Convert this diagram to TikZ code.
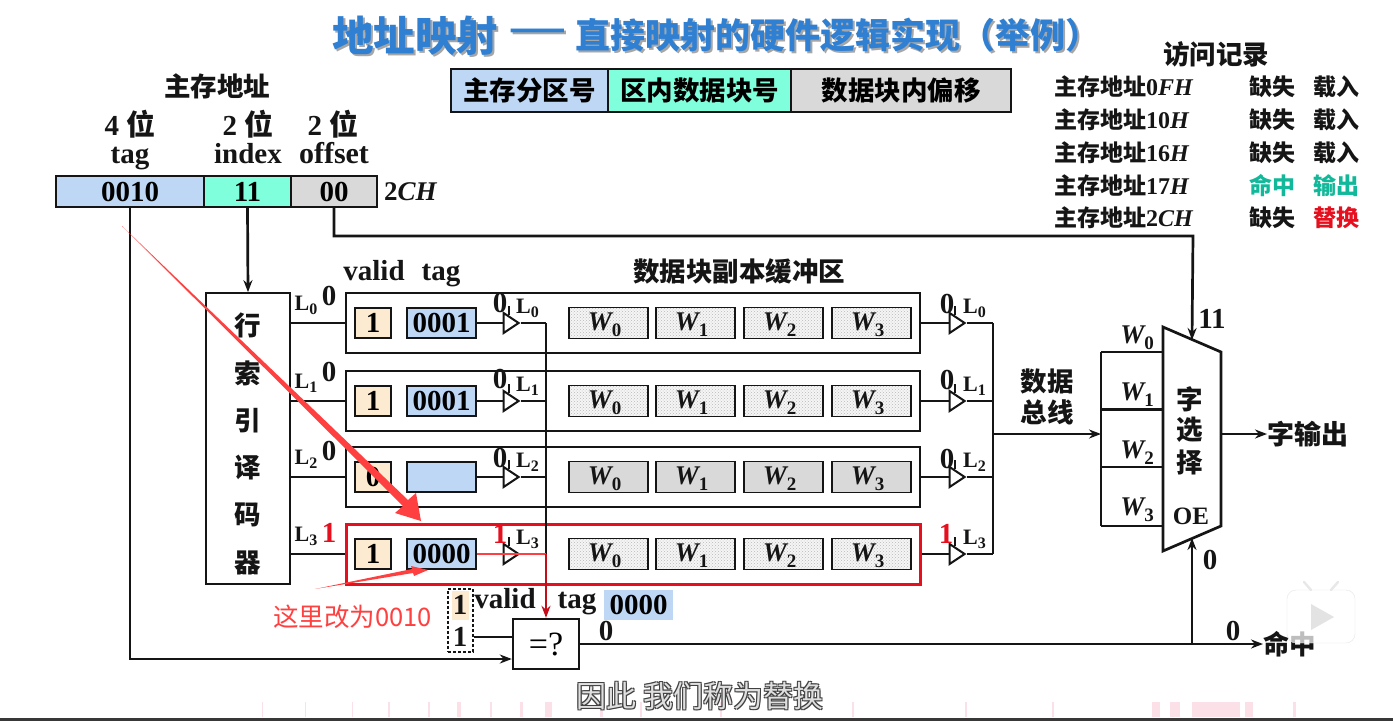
\documentclass[tikz,border=0pt]{standalone}
\usepackage{fontspec}
\setmainfont{Liberation Serif}
\newfontfamily\cjk{Noto Sans CJK SC}
\usepackage{xcolor}
\definecolor{ink}{HTML}{151515}
\definecolor{titleblue}{HTML}{2F80D3}
\definecolor{tagblue}{HTML}{BDD7F4}
\definecolor{idxaqua}{HTML}{7FFFDC}
\definecolor{offgray}{HTML}{D9D9D9}
\definecolor{validtan}{HTML}{FCEBD0}
\definecolor{hitgreen}{HTML}{12B89A}
\definecolor{missred}{HTML}{E60F1E}
\definecolor{markred}{HTML}{FF4040}
\definecolor{pinkbar}{HTML}{FBE0E8}
\usepackage{tikz}
\usetikzlibrary{shapes.geometric,arrows.meta,patterns}
\newcommand{\fs}[1]{\fontsize{#1}{#1}\selectfont}
\newcommand{\wsub}[1]{{\fs{27}\bfseries\itshape W\raisebox{-6pt}{\fs{19}\upshape #1}}}
\newcommand{\lsub}[1]{{\fs{22}\bfseries L\raisebox{-4pt}{\fs{16}#1}}}

\begin{document}
\begin{tikzpicture}[x=1pt,y=-1pt,
  wire/.style={line width=2.7pt,ink},
  thin wire/.style={line width=2pt,ink},
  arr/.style={-{Stealth[length=12pt,width=9pt]}},
  cell/.style={rectangle,draw=ink,line width=1.7pt,inner sep=0pt,align=center,font=\fs{29}\bfseries},
  lbl/.style={inner sep=0pt,text=ink,font=\fs{29}\bfseries},
  han/.style={inner sep=0pt,text=ink,font=\cjk\fs{26.5}\bfseries},
  rec/.style={inner sep=0pt,anchor=west,text=ink,font=\fs{24}\bfseries},
  buf/.style={isosceles triangle,isosceles triangle stretches,draw=ink,line width=2pt,fill=white,
    minimum width=20pt,minimum height=15pt,inner sep=0pt},
  wbox/.style={cell,minimum width=79pt,minimum height=31pt,preaction={fill=gray!8},pattern=crosshatch dots,pattern color=gray!55}]
  \useasboundingbox (0,0) rectangle (1393,721);
  \fill[white] (0,0) rectangle (1393,721);
  % title
  \foreach \dx/\c/\s in {2/gray!70/a,0/titleblue/b} {
    \node[han,anchor=west,text=\c,font=\cjk\fs{41.5}\bfseries] (T1\s) at (332+\dx,36+\dx) {地址映射};
    \node[han,anchor=west,text=\c,font=\cjk\fs{33}\bfseries] (T2\s) at (509+\dx,35+\dx) {——};
    \node[han,anchor=west,text=\c,font=\cjk\fs{35}\bfseries] (T3\s) at (575+\dx,35+\dx) {直接映射的硬件逻辑实现（举例）};
  }
  % legend
  \node[cell,fill=tagblue,minimum width=157pt,minimum height=43pt,font=\cjk\fs{26.5}\bfseries] (K1) at (529.5,90.5) {主存分区号};
  \node[cell,fill=idxaqua,minimum width=183pt,minimum height=43pt,font=\cjk\fs{26.5}\bfseries] (K2) at (699.5,90.5) {区内数据块号};
  \node[cell,fill=offgray,minimum width=220pt,minimum height=43pt,font=\cjk\fs{26.5}\bfseries] (K3) at (901,90.5) {数据块内偏移};
  % main memory address
  \node[han] (MA) at (217,86) {主存地址};
  \node[lbl] (Bt) at (130,124) {4 {\cjk 位}};
  \node[lbl] (Bi) at (248,124) {2 {\cjk 位}};
  \node[lbl] (Bo) at (333,124) {2 {\cjk 位}};
  \node[lbl,anchor=base] (Lt) at (130,163) {tag};
  \node[lbl,anchor=base] (Li) at (248,163) {index};
  \node[lbl,anchor=base,font=\fs{30}\bfseries] (Lo) at (334,163) {offset};
  \node[cell,fill=tagblue,minimum width=148pt,minimum height=31pt] (At) at (130,191.5) {0010};
  \node[cell,fill=idxaqua,minimum width=87pt,minimum height=31pt] (Ai) at (247.5,191.5) {11};
  \node[cell,fill=offgray,minimum width=86pt,minimum height=31pt] (Ao) at (334,191.5) {00};
  \node[lbl,anchor=west,font=\fs{27}\bfseries] (A2) at (384,191.5) {2\textit{CH}};
  % access record
  \node[han] (AR) at (1216,54) {访问记录};
  \foreach \r/\y/\a in {0/87/0\textit{FH},1/120/10\textit{H},2/153/16\textit{H}} {
    \node[rec] (R\r) at (1054,\y) {{\cjk\fs{23}主存地址}\a};
    \node[rec,font=\cjk\fs{23}\bfseries] (Ra\r) at (1249,\y) {缺失};
    \node[rec,font=\cjk\fs{23}\bfseries] (Rb\r) at (1313,\y) {载入};
  }
  \node[rec] (R3) at (1054,186) {{\cjk\fs{23}主存地址}17\textit{H}};
  \node[rec,text=hitgreen,font=\cjk\fs{23}\bfseries] (Ra3) at (1249,186) {命中};
  \node[rec,text=hitgreen,font=\cjk\fs{23}\bfseries] (Rb3) at (1313,186) {输出};
  \node[rec] (R4) at (1054,218) {{\cjk\fs{23}主存地址}2\textit{CH}};
  \node[rec,font=\cjk\fs{23}\bfseries] (Ra4) at (1249,218) {缺失};
  \node[rec,text=missred,font=\cjk\fs{23}\bfseries] (Rb4) at (1313,218) {替换};
  % decoder
  \node[cell,fill=white,minimum width=84pt,minimum height=291pt] (D) at (248,438.5) {};
  \foreach \t/\y in {行/325,索/373,引/421,译/468,码/515,器/563}
    \node[han] (D\t) at (248,\y) {\t};
  \node[lbl,anchor=base] (Hv) at (374,280) {valid};
  \node[lbl,anchor=base] (Ht) at (441,280) {tag};
  \node[han] (Hb) at (739,271) {数据块副本缓冲区};
  % cache rows
  \foreach \r/\y/\v/\t in {0/323/1/0001,1/401/1/0001,2/477/0/,3/554/1/0000} {
    \node[cell,minimum width=574pt,minimum height=60pt] (F\r) at (633,\y) {};
    \node[cell,fill=validtan,minimum width=36pt,minimum height=30pt] (V\r) at (373,\y) {\v};
    \node[cell,fill=tagblue,minimum width=69pt,minimum height=30pt] (G\r) at (441.5,\y) {\t};
    \node[wbox] (Wa\r) at (608.5,\y) {};
    \node[wbox] (Wb\r) at (695.5,\y) {};
    \node[wbox] (Wc\r) at (783.5,\y) {};
    \node[wbox] (Wd\r) at (871.5,\y) {};
    \node[buf] (P\r) at (509,\y) {};
    \node[buf] (Q\r) at (955,\y) {};
    \coordinate (S\r) at (546,\y);
    \coordinate (J\r) at (993,\y);
    \draw[thin wire] (D.east|-V\r) -- (F\r.west);
    \draw[wire] (G\r.east) -- (P\r.lower side);
    \draw[wire] (P\r.apex) -- (S\r);
    \draw[wire] (F\r.east) -- (Q\r.lower side);
    \draw[wire] (Q\r.apex) -- (J\r);
    \draw[thin wire] (P\r.north) -- ++(0,-9);
    \draw[thin wire] (Q\r.north) -- ++(0,-9);
    \node[lbl,anchor=west] (Lp\r) at (516,\y-15) {\lsub{\r}};
    \node[lbl,anchor=west] (Lq\r) at (963,\y-15) {\lsub{\r}};
    \node[lbl] (Ld\r) at (306,\y-18) {\lsub{\r}};
  }
  % row 2 plain grey words
  \foreach \n in {Wa,Wb,Wc,Wd} \node[cell,fill=offgray,minimum width=79pt,minimum height=31pt] (\n x) at (\n2) {};
  \foreach \r/\y in {0/325,1/403,2/479,3/556}
    \foreach \i/\x in {0/604.5,1/691.5,2/779.5,3/867.5}
      \node[lbl] (Wt\r\i) at (\x,\y) {\wsub{\i}};
  % line values
  \foreach \r/\y in {0/296,1/372,2/451} {
    \node[lbl] (Zd\r) at (329,\y) {0};
    \node[lbl] (Zp\r) at (500,\y+7) {0};
    \node[lbl] (Zq\r) at (947,\y+8) {0};
  }
  \node[lbl,text=missred] (Zd3) at (329,533) {1};
  \node[lbl,text=missred] (Zp3) at (500,534) {1};
  \node[lbl,text=missred] (Zq3) at (946,534) {1};
  % red row outline
  \node[rectangle,draw=missred,line width=3pt,minimum width=574pt,minimum height=60pt] (F3r) at (633,554) {};
  % data bus and word selector
  \draw[wire] (J0) -- (J3);
  \coordinate (Jm) at (993,434);
  \coordinate (Wn) at (1101,434);
  \draw[thin wire,arr] (Jm) -- (Wn);
  \node[han] (Bu1) at (1047,381) {数据};
  \node[han] (Bu2) at (1047,412) {总线};
  \coordinate (M1) at (1163,327);
  \coordinate (M2) at (1221,352);
  \coordinate (M3) at (1221,526);
  \coordinate (M4) at (1163,551);
  \coordinate (Mt) at (1192,340);
  \coordinate (Mb) at (1192,538);
  \coordinate (Mo) at (1221,434);
  \draw[wire,fill=white] (M1) -- (M2) -- (M3) -- (M4) -- cycle;
  \foreach \y in {352,409.5,467,526} \draw[wire] (1101,\y) -- (1163,\y);
  \draw[wire] (1101,352) -- (1101,526);
  \node[lbl] (W0) at (1137,338) {\wsub{0}};
  \node[lbl] (W1) at (1137,395) {\wsub{1}};
  \node[lbl] (W2) at (1137,453) {\wsub{2}};
  \node[lbl] (W3) at (1137,510) {\wsub{3}};
  \node[han] (Ma) at (1190,399) {字};
  \node[han] (Mc) at (1190,430) {选};
  \node[han] (Md) at (1190,462) {择};
  \node[lbl,font=\fs{25}\bfseries] (OE) at (1191,516) {OE};
  \node[lbl] (N11) at (1212,319) {11};
  \node[han,anchor=west,font=\cjk\fs{27}\bfseries] (Wo) at (1267,434) {字输出};
  \draw[thin wire,arr] (Mo) -- (Wo.west);
  % address wires
  \draw[wire,arr] (Ai.south) -- (D.north);
  \draw[wire,arr] (Ao.south) |- (1193,236) -- (Mt);
  % comparator
  \node[cell,line width=2.4pt,minimum width=66pt,minimum height=50pt,font=\fs{34}] (C) at (546,644) {=?};
  \node[rectangle,fill=validtan,minimum width=17pt,minimum height=29pt,inner sep=0pt] (Cv) at (460.5,605.5) {};
  \node[lbl] (Cv1) at (460,605) {1};
  \node[lbl] (Cv2) at (460,637) {1};
  \node[rectangle,draw=ink,densely dashed,line width=1.4pt,minimum width=25pt,minimum height=63pt,inner sep=0pt] (Cd) at (460.5,620.5) {};
  \node[lbl,anchor=base] (Cl) at (505,608) {valid};
  \node[lbl,anchor=base] (Cg) at (577,608) {tag};
  \node[rectangle,fill=tagblue,minimum width=69pt,minimum height=30pt,inner sep=0pt,font=\fs{29}\bfseries] (Cb) at (638.5,605) {0000};
  \draw[thin wire] (Cv2.east-|Cd.east) -- (C.west|-Cv2.east);
  \coordinate (Ci) at (C.west|-0,659);
  \draw[wire,arr] (At.south) |- (Ci);
  \draw[wire] (S0) -- (S3);
  \draw[line width=2pt,markred] (G3.east) -- (S3);
  \draw[line width=2.4pt,missred!85!black,arr] (S3) -- (C.north);
  % hit output
  \node[han,anchor=west] (Hit) at (1263,644) {命中};
  \node[lbl] (Zc) at (606,631) {0};
  \node[lbl] (Zh) at (1233,631) {0};
  \node[lbl] (Ze) at (1210,560) {0};
  \draw[thin wire,arr] (C.east|-0,644) -- (Hit.west);
  \draw[thin wire,arr] (1192,644) -- (Mb);
  % red marks
  \node[inner sep=0pt,text=markred,font=\cjk\fs{25.5}] (Note) at (352.5,617) {这里改为0010};
  \coordinate (Nt) at (315,589);
  \fill[markred] (Nt) -- (412,569) -- (411,566) -- (428,570) -- (414,576) -- (413,573) -- cycle;
  \fill[markred] (122,226) -- (403,506) -- (395,513) -- (421,521) -- (416,493) -- (408,500) -- cycle;
  % player overlay
  \foreach \x/\w in {262/1,305/1,352/1,388/2,428/2,457/4,490/2,520/3,545/7,600/3,640/2,720/2,852/2,965/2,1052/2,1152/8,1170/10,1192/48,1245/8,1293/3}
    \fill[pinkbar] (\x,702) rectangle ++(\w,15);
  \fill[ink!85] (0,718) rectangle (1393,721);
  \node[rectangle,rounded corners=9pt,draw=gray!20,fill=white,fill opacity=.72,minimum width=68pt,minimum height=53pt] (Pl) at (1321,616.5) {};
  \draw[line width=2.4pt,gray!18,line cap=round] (1311,590) -- (1304,582);
  \draw[line width=2.4pt,gray!18,line cap=round] (1331,590) -- (1338,582);
  \fill[gray!22] (1311,604) -- (1334,617) -- (1311,630) -- cycle;
  % caption
  \foreach \dx/\dy/\n in {-1/-1/a,1/-1/b,-1/1/c,1/1/d}
    \node[han,text=black!75,font=\cjk\fs{30}] (Cap\n) at (700+\dx,696+\dy) {因此 我们称为替换};
  \node[han,text=gray!25,font=\cjk\fs{30}] (Cap) at (700,696) {因此 我们称为替换};
\end{tikzpicture}
\end{document}
